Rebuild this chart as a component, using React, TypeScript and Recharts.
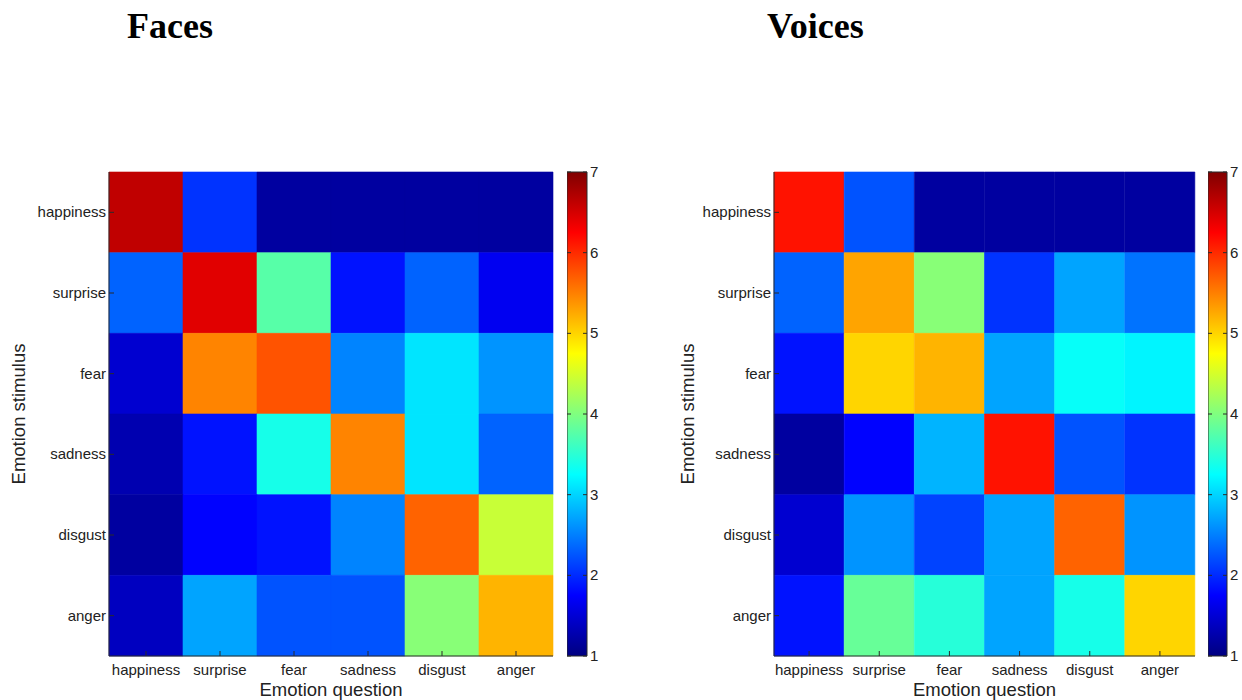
import { BarChart, Bar, XAxis, YAxis, Cell, Label } from 'recharts'

const stimuli = ['happiness', 'surprise', 'fear', 'sadness', 'disgust', 'anger']
const questions = ['happiness', 'surprise', 'fear', 'sadness', 'disgust', 'anger']

// mean ratings, one array per stimulus row, columns follow `questions`
const facesHappiness = [6.65, 2.05, 1.15, 1.15, 1.15, 1.15]
const facesSurprise = [2.33, 6.45, 3.8, 1.85, 2.3, 1.7]
const facesFear = [1.45, 5.45, 5.8, 2.5, 3.1, 2.6]
const facesSadness = [1.3, 1.9, 3.4, 5.45, 3.1, 2.35]
const facesDisgust = [1.2, 1.75, 1.9, 2.5, 5.65, 4.4]
const facesAnger = [1.4, 2.7, 2.27, 2.2, 4.07, 5.2]

const voicesHappiness = [6.15, 2.2, 1.2, 1.2, 1.2, 1.2]
const voicesSurprise = [2.33, 5.3, 4.0, 2.05, 2.75, 2.45]
const voicesFear = [1.9, 4.97, 5.2, 2.75, 3.3, 3.15]
const voicesSadness = [1.2, 1.8, 2.8, 6.15, 2.2, 2.0]
const voicesDisgust = [1.5, 2.6, 2.15, 2.68, 5.65, 2.65]
const voicesAnger = [1.9, 3.85, 3.5, 2.68, 3.4, 4.97]

const facesRows = [facesHappiness, facesSurprise, facesFear, facesSadness, facesDisgust, facesAnger]
const voicesRows = [voicesHappiness, voicesSurprise, voicesFear, voicesSadness, voicesDisgust, voicesAnger]

const colorTicks = [1, 2, 3, 4, 5, 6, 7]
const rowTicks = [0.5, 1.5, 2.5, 3.5, 4.5, 5.5]

const FONT = '"Liberation Sans", Arial, sans-serif'
const EDGE = '#2b2b2b'
const TICK_FS = 15
const LABEL_FS = 18.5

// MATLAB jet(64), value range 1..7
function jet(v: number) {
  let t = (v - 1) / 6
  t = Math.max(0, Math.min(1, t))
  t = Math.round(t * 63) / 63
  const c = (x: number) => Math.round(255 * Math.max(0, Math.min(1, 1.5 - Math.abs(x))))
  return `rgb(${c(4 * t - 3)},${c(4 * t - 2)},${c(4 * t - 1)})`
}

// one stacked segment per stimulus, each segment one unit tall
const cellData = questions.map((q) => {
  const row: Record<string, any> = { question: q, none: 0 }
  stimuli.forEach((s) => (row[s] = 1))
  return row
})

const BottomTick = ({ x, y, payload }: any) => (
  <g>
    <line x1={x} x2={x} y1={y} y2={y - 5} stroke={EDGE} />
    <text x={x} y={y + 19} textAnchor="middle" fontSize={TICK_FS} fontFamily={FONT} fill="#222">
      {payload.value}
    </text>
  </g>
)
const TopTick = ({ x, y }: any) => <line x1={x} x2={x} y1={y} y2={y + 5} stroke={EDGE} />
const LeftTick = ({ x, y, payload }: any) => (
  <g>
    <line x1={x} x2={x + 5} y1={y} y2={y} stroke={EDGE} />
    <text x={x - 3} y={y + 5} textAnchor="end" fontSize={TICK_FS} fontFamily={FONT} fill="#222">
      {stimuli[Math.floor(payload.value)]}
    </text>
  </g>
)
const RightTick = ({ x, y }: any) => <line x1={x} x2={x - 5} y1={y} y2={y} stroke={EDGE} />

function Heatmap({
  rows,
  yAxisWidth,
  width,
  marginRight,
  labelOffset,
}: {
  rows: number[][]
  yAxisWidth: number
  width: number
  marginRight: number
  labelOffset: number
}) {
  return (
    <BarChart
      width={width}
      height={700}
      data={cellData}
      margin={{ top: 172, right: marginRight, bottom: 0, left: 0 }}
      barCategoryGap={0}
      barGap={0}
    >
      <XAxis
        dataKey="question"
        xAxisId="b"
        height={44}
        tickSize={0}
        tickMargin={0}
        tickLine={false}
        axisLine={{ stroke: EDGE }}
        tick={<BottomTick />}
        interval={0}
      >
        <Label value="Emotion question" position="insideBottom" offset={4} fontSize={LABEL_FS} fontFamily={FONT} fill="#222" />
      </XAxis>
      <XAxis
        dataKey="question"
        xAxisId="t"
        orientation="top"
        height={0}
        tickSize={0}
        tickMargin={0}
        tickLine={false}
        axisLine={{ stroke: EDGE }}
        tick={<TopTick />}
        interval={0}
      />
      <YAxis
        yAxisId="l"
        type="number"
        domain={[0, 6]}
        reversed
        ticks={rowTicks}
        width={yAxisWidth}
        tickSize={0}
        tickMargin={0}
        tickLine={false}
        axisLine={{ stroke: EDGE }}
        tick={<LeftTick />}
        interval={0}
      >
        <Label
          value="Emotion stimulus"
          angle={-90}
          position="insideLeft"
          offset={labelOffset}
          fontSize={LABEL_FS}
          fontFamily={FONT}
          fill="#222"
          style={{ textAnchor: 'middle' }}
        />
      </YAxis>
      <YAxis
        yAxisId="r"
        orientation="right"
        type="number"
        domain={[0, 6]}
        reversed
        ticks={rowTicks}
        width={0}
        tickSize={0}
        tickMargin={0}
        tickLine={false}
        axisLine={{ stroke: EDGE }}
        tick={<RightTick />}
        interval={0}
      />
      {stimuli.map((s, ri) => (
        <Bar key={s} dataKey={s} stackId="cells" xAxisId="b" yAxisId="l" isAnimationActive={false}>
          {questions.map((q, ci) => (
            <Cell key={q} fill={jet(rows[ri][ci])} stroke={jet(rows[ri][ci])} strokeWidth={0.6} />
          ))}
        </Bar>
      ))}
      {/* empty series so the mirrored box axes get drawn */}
      <Bar dataKey="none" xAxisId="t" yAxisId="r" fill="none" isAnimationActive={false} />
    </BarChart>
  )
}

const colorbarData = [{ name: 'scale', range: [1, 7] }]

function Colorbar({ id, barWidth }: { id: string; barWidth: number }) {
  const BarTick = ({ x, y, payload }: any) => (
    <g>
      <line x1={x} x2={x - 4} y1={y} y2={y} stroke={EDGE} />
      <line x1={x - barWidth} x2={x - barWidth + 4} y1={y} y2={y} stroke={EDGE} />
      <text x={x + 3} y={y + 5} textAnchor="start" fontSize={TICK_FS} fontFamily={FONT} fill="#222">
        {payload.value}
      </text>
    </g>
  )
  return (
    <BarChart
      width={barWidth + 40}
      height={700}
      data={colorbarData}
      margin={{ top: 172, right: 0, bottom: 44, left: 0 }}
      barCategoryGap={0}
    >
      <defs>
        <linearGradient id={id} x1="0" y1="1" x2="0" y2="0">
          <stop offset="0" stopColor="rgb(0,0,128)" />
          <stop offset="0.125" stopColor="rgb(0,0,255)" />
          <stop offset="0.375" stopColor="rgb(0,255,255)" />
          <stop offset="0.625" stopColor="rgb(255,255,0)" />
          <stop offset="0.875" stopColor="rgb(255,0,0)" />
          <stop offset="1" stopColor="rgb(128,0,0)" />
        </linearGradient>
      </defs>
      <XAxis dataKey="name" hide />
      <YAxis
        orientation="right"
        type="number"
        domain={[1, 7]}
        ticks={colorTicks}
        width={40}
        tickSize={0}
        tickMargin={0}
        tickLine={false}
        axisLine={false}
        tick={<BarTick />}
        interval={0}
      />
      <Bar dataKey="range" fill={`url(#${id})`} stroke={EDGE} strokeWidth={1} isAnimationActive={false} />
    </BarChart>
  )
}

const titleStyle: React.CSSProperties = {
  position: 'absolute',
  top: 8,
  fontFamily: '"Liberation Serif", "Times New Roman", serif',
  fontWeight: 'bold',
  fontSize: 36,
  lineHeight: '36px',
  color: '#000',
}

export default function App() {
  return (
    <div style={{ position: 'absolute', left: 0, top: 0, width: 1242, height: 700, background: '#fff', overflow: 'hidden' }}>
      <div style={{ ...titleStyle, left: 127 }}>Faces</div>
      <div style={{ ...titleStyle, left: 767 }}>Voices</div>
      <div style={{ position: 'absolute', left: 0, top: 0 }}>
        <Heatmap rows={facesRows} yAxisWidth={109} width={620} marginRight={67} labelOffset={18.5} />
      </div>
      <div style={{ position: 'absolute', left: 567, top: 0 }}>
        <Colorbar id="jetFaces" barWidth={20} />
      </div>
      <div style={{ position: 'absolute', left: 620, top: 0 }}>
        <Heatmap rows={voicesRows} yAxisWidth={154} width={622} marginRight={47} labelOffset={67.5} />
      </div>
      <div style={{ position: 'absolute', left: 1208, top: 0 }}>
        <Colorbar id="jetVoices" barWidth={19} />
      </div>
    </div>
  )
}
